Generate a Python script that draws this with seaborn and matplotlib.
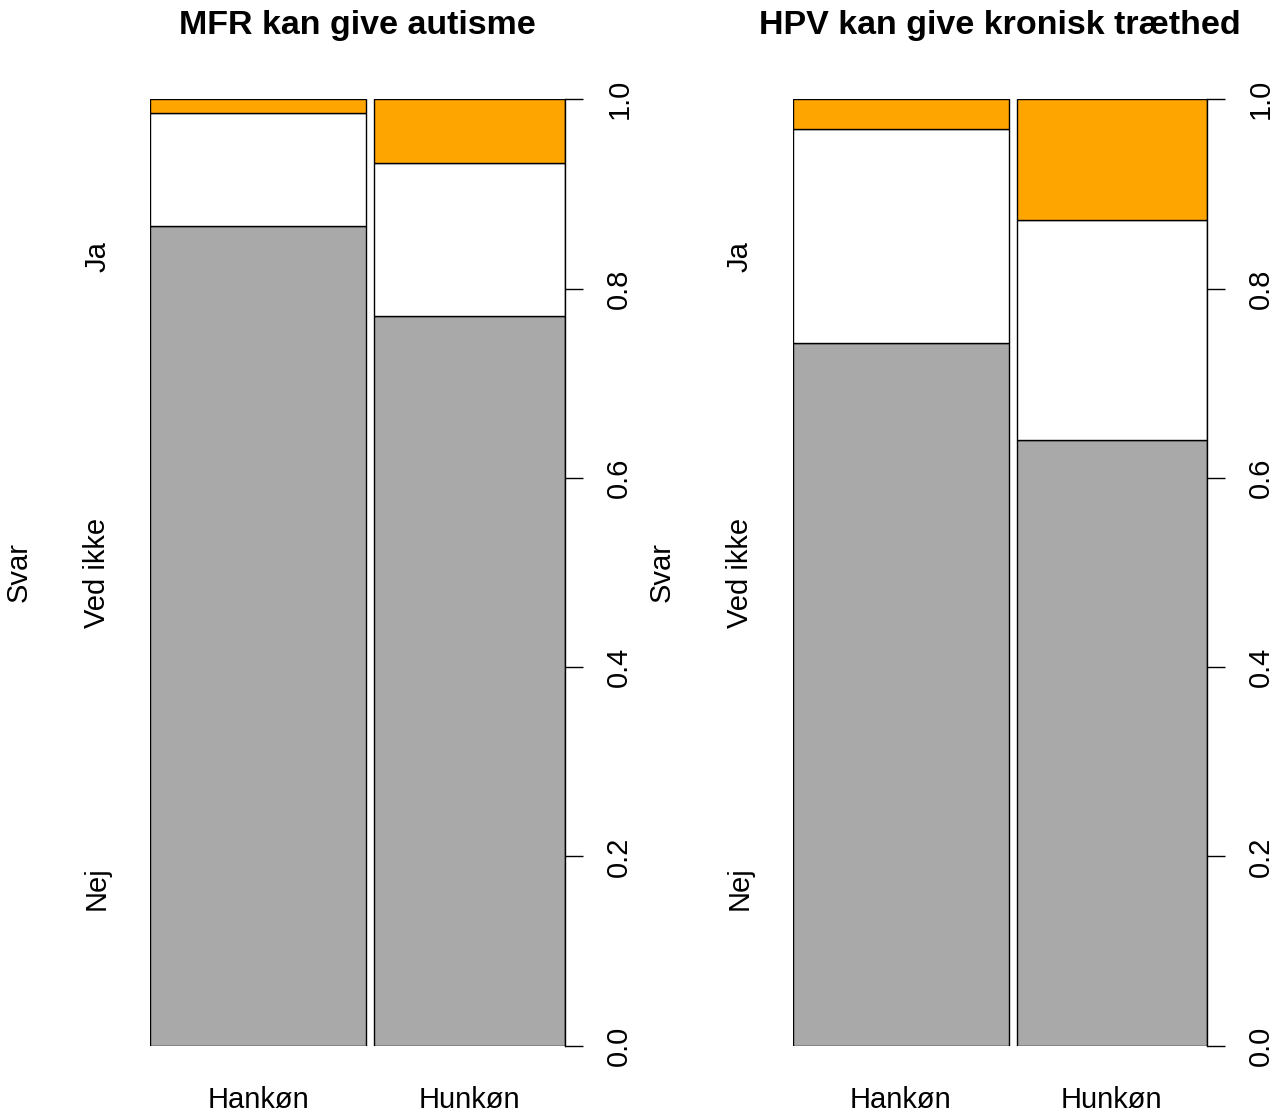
import numpy as np
import pandas as pd
import matplotlib
matplotlib.use("Agg")
import matplotlib.pyplot as plt
import seaborn as sns

# ---------------------------------------------------------------------------
# Data (proportions read off the spineplots)
# ---------------------------------------------------------------------------
sex_labels = ["Hankøn", "Hunkøn"]
answer_labels = ["Nej", "Ved ikke", "Ja"]
answer_colors = ["#A9A9A9", "#FFFFFF", "#FFA500"]

mfr_sex_share = [0.531, 0.469]
mfr_nej = [0.866, 0.771]
mfr_ved_ikke = [0.120, 0.162]
mfr_ja = [0.014, 0.067]

hpv_sex_share = [0.532, 0.468]
hpv_nej = [0.743, 0.640]
hpv_ved_ikke = [0.226, 0.232]
hpv_ja = [0.031, 0.128]

titles = ["MFR kan give autisme", "HPV kan give kronisk træthed"]
y_label = "Svar"
GAP = 0.02
FS = 21

sns.set_theme(style="white")
plt.rcParams["font.family"] = ["Liberation Sans", "DejaVu Sans"]
plt.rcParams["text.color"] = "black"
plt.rcParams["axes.labelcolor"] = "black"
plt.rcParams["xtick.color"] = "black"
plt.rcParams["ytick.color"] = "black"

W, H = 1286, 1117
fig = plt.figure(figsize=(W / 100, H / 100), dpi=100)


def spineplot(left_px, width_px, share, nej, ved, ja, title):
    ax = fig.add_axes([left_px / W, (H - 1045.7) / H, width_px / W, 946.4 / H])
    df = pd.DataFrame({"sex": sex_labels, "share": share,
                       "Nej": nej, "Ved ikke": ved, "Ja": ja})
    df["x0"] = [0.0, share[0] + GAP]
    bottom = np.zeros(len(df))
    for ans, col in zip(answer_labels, answer_colors):
        ax.bar(df["x0"], df[ans], width=df["share"], bottom=bottom, align="edge",
               color=col, edgecolor="black", linewidth=1.0)
        bottom += df[ans].values
    ax.set_xlim(0, 1 + GAP)
    ax.set_ylim(0, 1)
    for s in ax.spines.values():
        s.set_visible(False)

    ax.set_xticks(df["x0"] + df["share"] / 2)
    ax.set_xticklabels(sex_labels, fontsize=FS)
    ax.tick_params(axis="x", length=0, pad=29)

    ax.set_yticks([1 / 6, 0.5, 5 / 6])
    ax.set_yticklabels(answer_labels, fontsize=FS, rotation=90, va="center")
    ax.tick_params(axis="y", length=0, pad=28)
    ax.set_ylabel(y_label, fontsize=FS, labelpad=36)

    axr = ax.twinx()
    axr.set_ylim(0, 1)
    for name, s in axr.spines.items():
        s.set_visible(name == "right")
    axr.spines["right"].set_linewidth(1.0)
    axr.spines["right"].set_color("black")
    ticks = np.arange(0, 1.01, 0.2)
    axr.set_yticks(ticks)
    axr.set_yticklabels([f"{t:.1f}" for t in ticks], fontsize=FS,
                        rotation=90, va="center")
    axr.tick_params(axis="y", right=True, length=13, width=1.0,
                    color="black", pad=16)

    ax.set_title(title, fontsize=24.5, fontweight="bold", y=1.0, pad=47)
    return ax


spineplot(150, 415, mfr_sex_share, mfr_nej, mfr_ved_ikke, mfr_ja, titles[0])
spineplot(792.7, 414, hpv_sex_share, hpv_nej, hpv_ved_ikke, hpv_ja, titles[1])

fig.savefig("out.png", dpi=100, facecolor="white")
